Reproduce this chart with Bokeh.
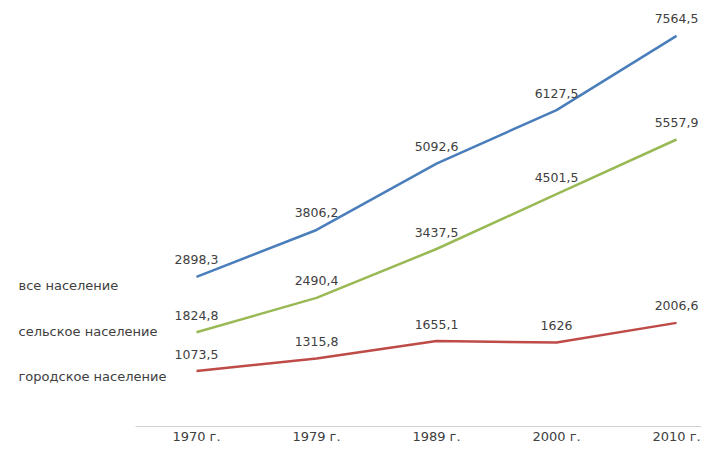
from bokeh.plotting import figure
from bokeh.models import Range1d, FixedTicker, ColumnDataSource
from bokeh.core.properties import value
from bokeh.embed import file_html
from bokeh.resources import INLINE

years = ["1970 г.", "1979 г.", "1989 г.", "2000 г.", "2010 г."]
total = [2898.3, 3806.2, 5092.6, 6127.5, 7564.5]
rural = [1824.8, 2490.4, 3437.5, 4501.5, 5557.9]
urban = [1073.5, 1315.8, 1655.1, 1626.0, 2006.6]
series_names = ["все население", "сельское население", "городское население"]
colors = ["#4A7EBB", "#98B954", "#BE4B48"]

FONT = "DejaVu Sans"
TXT = "#404040"

p = figure(width=701, height=446, output_backend="svg", toolbar_location=None,
           x_range=Range1d(-1.633, 4.208), y_range=Range1d(0, 8250),
           min_border_left=0, min_border_right=0, min_border_top=0,
           min_border_bottom=0)
p.outline_line_color = None
p.grid.visible = False
p.yaxis.visible = False
p.background_fill_color = "white"

xs = list(range(len(years)))
for vals, col in zip([total, rural, urban], colors):
    p.line(xs, vals, line_color=col, line_width=2.5)
    src = ColumnDataSource(dict(x=xs, y=vals,
                                t=[f"{v:g}".replace(".", ",") for v in vals]))
    p.text("x", "y", text="t", source=src, text_align="center",
           text_baseline="middle", y_offset=-17, text_font=value(FONT),
           text_font_size="12.5px", text_color=TXT)

# series name labels at the left of the chart
name_src = ColumnDataSource(dict(
    x=[-1.483] * 3,
    y=[total[0], rural[0], urban[0]],
    t=series_names,
    off=[9, -1, 5],
))
p.text("x", "y", text="t", source=name_src, text_align="left",
       text_baseline="middle", y_offset="off", text_font=value(FONT),
       text_font_size="13px", text_color=TXT)

ax = p.xaxis[0]
ax.ticker = FixedTicker(ticks=xs)
ax.bounds = (-0.508, 4.208)
ax.major_label_overrides = {i: y for i, y in enumerate(years)}
ax.major_tick_line_color = None
ax.major_tick_out = 0
ax.major_tick_in = 0
ax.minor_tick_line_color = None
ax.minor_tick_out = 0
ax.axis_line_color = "#D0D0D0"
ax.axis_line_width = 1
ax.major_label_standoff = 2
ax.major_label_text_font = FONT
ax.major_label_text_font_size = "13px"
ax.major_label_text_color = TXT

open("out.html", "w").write(file_html(p, INLINE))
